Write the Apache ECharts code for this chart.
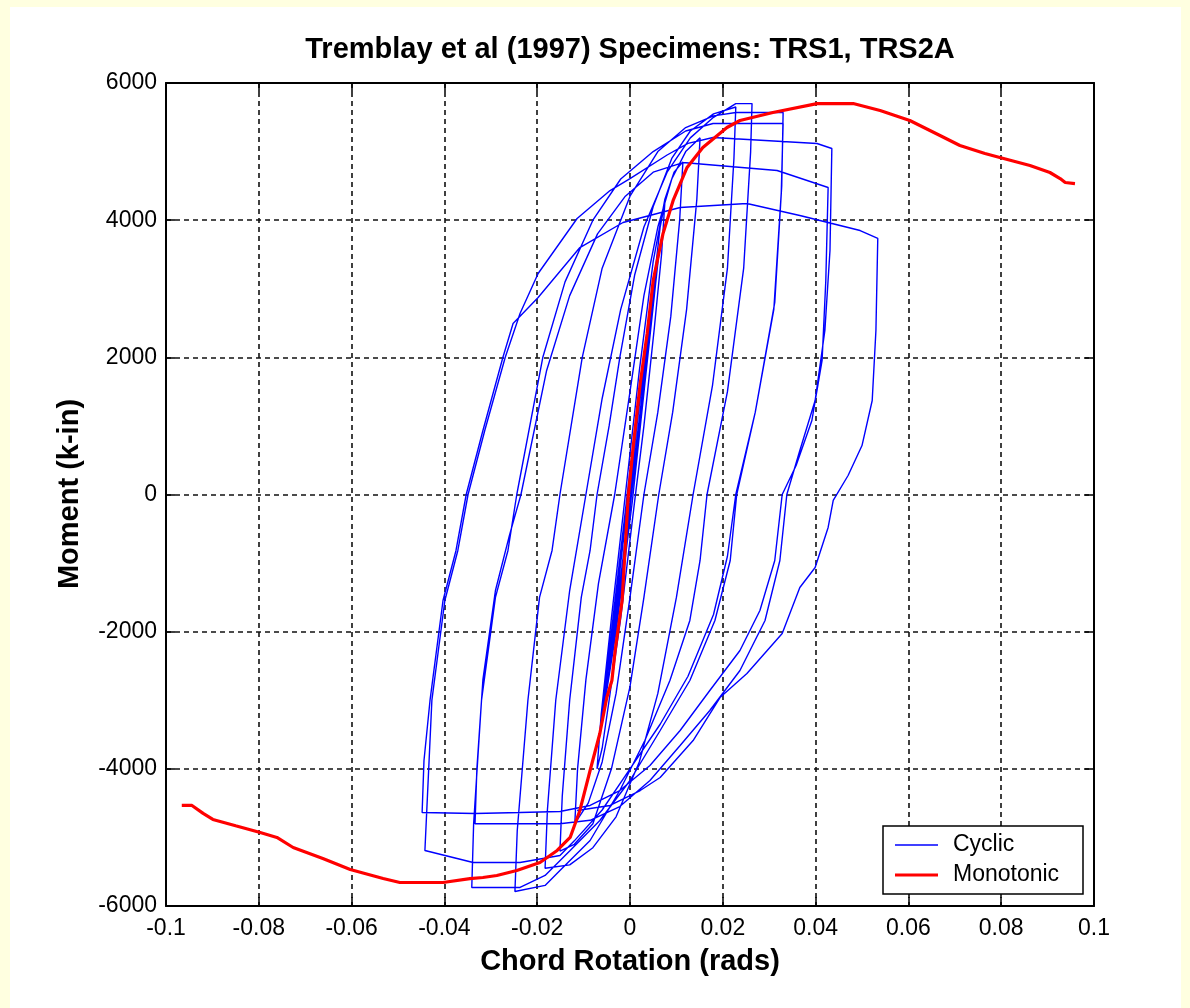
<!DOCTYPE html>
<html><head><meta charset="utf-8">
<script src="https://cdn.jsdelivr.net/npm/echarts@6/dist/echarts.min.js"></script>
<style>
html,body{margin:0;padding:0;background:#FFFFE0;width:1190px;height:1008px;overflow:hidden}
#chart{position:absolute;left:10px;top:7px;width:1171px;height:1001px;background:#fff}
</style></head><body><div id="chart"></div>
<script>
// ---------- data (rotation [rad], moment [k-in]) ----------
const xTicks = [-0.1, -0.08, -0.06, -0.04, -0.02, 0, 0.02, 0.04, 0.06, 0.08, 0.1];
const yTicks = [-6000, -4000, -2000, 0, 2000, 4000, 6000];

const monotonic = [
  [-0.0966,-4534],[-0.0944,-4534],[-0.0920,-4650],[-0.0899,-4738],[-0.0850,-4830],[-0.0797,-4928],
  [-0.0761,-5000],[-0.0726,-5147],[-0.0662,-5307],[-0.0603,-5467],[-0.0532,-5599],[-0.0496,-5657],
  [-0.0403,-5657],[-0.0345,-5600],[-0.0317,-5584],[-0.0287,-5555],[-0.0244,-5482],[-0.0194,-5365],
  [-0.0157,-5190],[-0.0129,-5001],[-0.0108,-4607],[-0.0086,-4024],[-0.0065,-3485],[-0.0050,-2960],
  [-0.0039,-2712],[-0.0032,-2274],[-0.0017,-1546],[-0.0004,-44],[0.0006,642],[0.0022,1618],
  [0.0037,2347],[0.0050,3120],[0.0060,3450],[0.0071,3800],[0.0093,4287],[0.0123,4768],[0.0157,5060],
  [0.0209,5351],[0.0237,5453],[0.0308,5570],[0.0403,5700],[0.0481,5700],[0.0539,5599],[0.0603,5453],
  [0.0668,5234],[0.0711,5088],[0.0765,4972],[0.0797,4913],[0.0862,4797],[0.0905,4695],[0.0927,4607],
  [0.0938,4549],[0.0959,4534]
];

const cyclicElastic = [
  [0,0],[0.002,1100],[0.0042,2400],[0.002,1000],[-0.002,-1200],[-0.0045,-2600],[-0.002,-1000],
  [0.002,1300],[0.0052,3000],[0.0025,1300],[0,-200],[-0.003,-1900],[-0.0058,-3200],[-0.003,-1500],
  [0,300],[0.003,1900],[0.0062,3500],[0.0035,1800],[0.0005,-100],[-0.003,-2000],[-0.0065,-3500],
  [-0.0035,-1700],[0,350],[0.0035,2200]
];
const cycle1 = [
  [0.0055,3300],[0.0065,3900],[0.0075,4250],
  [0.0068,3500],[0.0052,2400],[0.003,1000],[0.001,-100],[-0.002,-1800],[-0.0045,-3000],[-0.006,-3700],[-0.0071,-4000]
];
const cycle2 = [
  [-0.0062,-3200],[-0.004,-1800],[-0.001,0],[0.002,1800],[0.005,3400],[0.0075,4300],[0.0095,4700],[0.0114,4850],
  [0.0107,4000],[0.0088,2600],[0.006,1200],[0.003,0],[0,-1500],[-0.003,-2900],[-0.006,-3900],[-0.009,-4500],[-0.0119,-4800]
];
const cycle3 = [
  [-0.0113,-4000],[-0.0095,-2700],[-0.0068,-1300],[-0.0033,0],[0,1500],[0.003,2900],[0.006,3900],[0.009,4600],[0.012,5000],[0.0151,5200],
  [0.0144,4300],[0.0122,2700],[0.0092,1200],[0.0062,0],[0.003,-1500],[0,-2800],[-0.004,-4000],[-0.008,-4800],[-0.012,-5100],[-0.0151,-5200]
];
const cycle4 = [
  [-0.0146,-4400],[-0.013,-3000],[-0.0105,-1500],[-0.0086,-816],[-0.0071,0],[-0.0045,1000],[-0.0022,1997],[0.001,3200],[0.005,4200],[0.009,4900],[0.013,5300],[0.018,5550],[0.0228,5650],
  [0.0224,4900],[0.021,3300],[0.0178,1600],[0.0136,0],[0.010,-1500],[0.006,-2900],[0.002,-3900],[-0.003,-4700],[-0.008,-5150],[-0.013,-5400],[-0.0183,-5450]
];
const cycle5 = [
  [-0.0178,-4600],[-0.016,-3000],[-0.013,-1400],[-0.0095,0],[-0.006,1400],[-0.002,2700],[0.003,3900],[0.008,4700],[0.013,5200],[0.018,5500],[0.0228,5700],[0.0263,5700],
  [0.0260,5000],[0.0245,3300],[0.021,1500],[0.0166,0],[0.0151,-962],[0.0129,-1837],[0.0086,-2712],[0.0032,-3587],[-0.0022,-4316],[-0.0086,-5045],[-0.0151,-5482],[-0.0183,-5700],[-0.0248,-5788]
];
const cycle6 = [
  [-0.0243,-4900],[-0.022,-3000],[-0.0195,-1500],[-0.0168,-816],[-0.0151,0],[-0.0103,1997],[-0.006,3300],[0,4350],[0.006,5000],[0.012,5350],[0.018,5520],[0.0228,5570],[0.033,5570],
  [0.0327,4500],[0.0312,2800],[0.027,1200],[0.023,0],[0.0216,-962],[0.0183,-1837],[0.0129,-2712],[0.0065,-3441],[0,-4170],[-0.0065,-4753],[-0.0129,-5190],[-0.0183,-5555],[-0.0237,-5730],[-0.0341,-5730]
];
const cycle7 = [
  [-0.0337,-4800],[-0.032,-3000],[-0.029,-1500],[-0.0263,-816],[-0.0244,0],[-0.0188,1997],[-0.014,3100],[-0.008,4000],[-0.002,4600],[0.005,5000],[0.012,5300],[0.0179,5410],[0.033,5410],
  [0.0326,4400],[0.031,2700],[0.027,1200],[0.0228,0],[0.021,-900],[0.018,-1750],[0.0125,-2650],[0.0065,-3350],[0,-4000],[-0.006,-4600],[-0.012,-5050],[-0.0151,-5263],[-0.0237,-5365],[-0.0338,-5365],[-0.0442,-5190]
];
const cycle8 = [
  [-0.0437,-4461],[-0.0427,-3003],[-0.0399,-1546],[-0.0371,-816],[-0.0349,0],[-0.0313,933],[-0.0269,1997],[-0.0237,2639],[-0.0198,3222],[-0.0114,4024],[-0.0043,4432],[0,4607],[0.008,4950],[0.0125,5120],[0.0179,5205],[0.0403,5118],[0.0435,5045],
  [0.0431,3557],[0.042,2391],[0.0399,1371],[0.0366,642],[0.0338,0],[0.0323,-962],[0.0291,-1837],[0.0237,-2566],[0.0172,-3149],[0.0108,-3660],[0.0043,-4170],[-0.0022,-4550],[-0.0086,-4750],[-0.0151,-4800],[-0.0237,-4800],[-0.0334,-4800]
];
const cycle9 = [
  [-0.0330,-4000],[-0.0317,-2700],[-0.029,-1400],[-0.026,-600],[-0.0235,0],[-0.018,1800],[-0.013,2900],[-0.007,3800],[-0.001,4350],[0.005,4700],[0.0114,4840],[0.0317,4724],[0.0427,4476],
  [0.0422,3120],[0.0414,1954],[0.0392,1079],[0.0358,423],[0.0328,0],[0.0312,-962],[0.028,-1691],[0.0237,-2274],[0.0172,-2858],[0.0108,-3441],[0.0043,-3951],[-0.0022,-4316],[-0.0086,-4534],[-0.0151,-4622],[-0.0237,-4636],[-0.0334,-4651],[-0.0448,-4636]
];
const cycle10 = [
  [-0.0444,-3878],[-0.0431,-3003],[-0.0403,-1546],[-0.0375,-816],[-0.0353,0],[-0.0317,933],[-0.0274,1997],[-0.0252,2493],[-0.0198,2872],[-0.0108,3601],[-0.0015,3966],[0.0108,4184],[0.0252,4243],[0.0366,4068],[0.0496,3849],[0.0534,3733],
  [0.0530,2391],[0.0522,1371],[0.050,714],[0.047,277],[0.0438,-87],[0.0427,-481],[0.0399,-1064],[0.0366,-1356],[0.0328,-2027],[0.0252,-2610],[0.0194,-2960],[0.0136,-3587],[0.0065,-4126],[0.0022,-4316],[-0.0043,-4534],[-0.0114,-4607]
];

const cyclic = [].concat(cyclicElastic, cycle1, cycle2, cycle3, cycle4, cycle5, cycle6, cycle7, cycle8, cycle9, cycle10);

// ---------- chart ----------
const FONT = '"Liberation Sans", Arial, Helvetica, sans-serif';
const chart = echarts.init(document.getElementById('chart'), null, {renderer: 'canvas'});
const G = {left: 156, top: 76, width: 928, height: 823};
const fmtX = v => String(Math.round(v * 100) / 100);
const gridLine = {show: true, lineStyle: {color: '#111', width: 1.6, type: [5, 4]}};
const axLine = {show: true, onZero: false, lineStyle: {color: '#000', width: 2}};
const tick = {show: true, inside: true, length: 9, lineStyle: {color: '#000', width: 1.5}};

chart.setOption({
  animation: false,
  grid: G,
  xAxis: [
    {type: 'value', position: 'bottom', min: xTicks[0], max: xTicks[xTicks.length - 1], interval: 0.02,
     axisLine: axLine, axisTick: tick, splitLine: gridLine,
     axisLabel: {color: '#000', fontSize: 23, fontFamily: FONT, margin: 11, formatter: fmtX}},
    {type: 'value', position: 'top', min: xTicks[0], max: xTicks[xTicks.length - 1], interval: 0.02,
     axisLine: axLine, axisTick: tick, splitLine: {show: false}, axisLabel: {show: false}}
  ],
  yAxis: [
    {type: 'value', position: 'left', min: yTicks[0], max: yTicks[yTicks.length - 1], interval: 2000,
     axisLine: axLine, axisTick: tick, splitLine: gridLine,
     axisLabel: {color: '#000', fontSize: 23, fontFamily: FONT, margin: 9, formatter: v => String(v)}},
    {type: 'value', position: 'right', min: yTicks[0], max: yTicks[yTicks.length - 1], interval: 2000,
     axisLine: axLine, axisTick: tick, splitLine: {show: false}, axisLabel: {show: false}}
  ],
  series: [
    {name: 'Cyclic', type: 'line', data: cyclic, xAxisIndex: 0, yAxisIndex: 0, symbol: 'none', smooth: false,
     lineStyle: {color: '#0000FF', width: 1.4}, z: 3},
    {name: 'Monotonic', type: 'line', data: monotonic, xAxisIndex: 0, yAxisIndex: 0, symbol: 'none', smooth: false,
     lineStyle: {color: '#FF0000', width: 3.2}, z: 4}
  ],
  graphic: [
    {type: 'text', x: 620, y: 43, style: {text: 'Tremblay et al (1997) Specimens: TRS1, TRS2A', font: 'bold 29px ' + FONT,
      fill: '#000', align: 'center', verticalAlign: 'middle'}},
    {type: 'text', x: 620, y: 955, style: {text: 'Chord Rotation (rads)', font: 'bold 29px ' + FONT,
      fill: '#000', align: 'center', verticalAlign: 'middle'}},
    {type: 'text', x: 60, y: 487, rotation: Math.PI / 2, style: {text: 'Moment (k-in)', font: 'bold 29px ' + FONT,
      fill: '#000', align: 'center', verticalAlign: 'middle'}},
    {type: 'rect', shape: {x: 873, y: 819, width: 200, height: 68}, style: {fill: '#fff', stroke: '#000', lineWidth: 1.5}, z: 10},
    {type: 'line', shape: {x1: 885, y1: 838, x2: 928, y2: 838}, style: {stroke: '#0000FF', lineWidth: 1.4}, z: 11},
    {type: 'line', shape: {x1: 885, y1: 868, x2: 928, y2: 868}, style: {stroke: '#FF0000', lineWidth: 3.2}, z: 11},
    {type: 'text', x: 943, y: 838, style: {text: 'Cyclic', font: '23px ' + FONT, fill: '#000', align: 'left', verticalAlign: 'middle'}, z: 11},
    {type: 'text', x: 943, y: 868, style: {text: 'Monotonic', font: '23px ' + FONT, fill: '#000', align: 'left', verticalAlign: 'middle'}, z: 11}
  ]
});
</script></body></html>
